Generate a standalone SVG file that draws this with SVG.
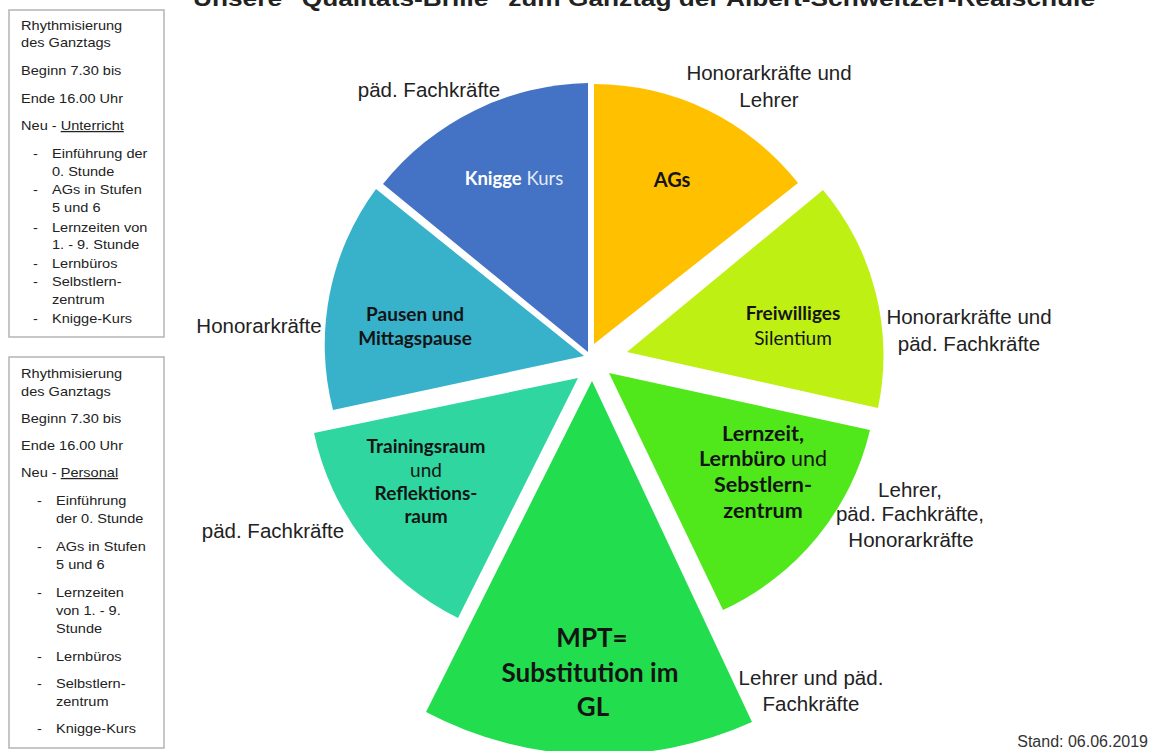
<svg xmlns="http://www.w3.org/2000/svg" width="1150" height="751" viewBox="0 0 1150 751">
<style>
.box{fill:#fff;stroke:#b4b4b4;stroke-width:1.5}
.bt{font-family:"Liberation Sans",Arial,sans-serif;font-size:13px;fill:#222}
.ol{font-family:"Liberation Sans",Arial,sans-serif;font-size:20.5px;fill:#222;text-anchor:middle}
.il{font-family:Lato,"Open Sans",sans-serif;font-size:19px;fill:#141414;text-anchor:middle}
.b{font-weight:bold}
.title{font-family:"Liberation Sans",Arial,sans-serif;font-size:22px;font-weight:bold;fill:#222}
</style>
<rect width="1150" height="751" fill="#fff"/>
<text class="title" x="193" y="6" textLength="902" lengthAdjust="spacingAndGlyphs">Unsere "Qualitäts-Brille" zum Ganztag der Albert-Schweitzer-Realschule</text>

<g id="box-unterricht">
<rect class="box" x="9" y="10" width="155" height="327"/>
<g transform="scale(1.12,1)">
<text class="bt" x="18.8" y="30">Rhythmisierung</text>
<text class="bt" x="18.8" y="47">des Ganztags</text>
<text class="bt" x="18.8" y="75">Beginn 7.30 bis</text>
<text class="bt" x="18.8" y="103">Ende 16.00 Uhr</text>
<text class="bt" x="18.8" y="130">Neu - <tspan text-decoration="underline">Unterricht</tspan></text>
<text class="bt" x="29.5" y="158">-</text><text class="bt" x="46.4" y="158">Einführung der</text>
<text class="bt" x="46.4" y="176">0. Stunde</text>
<text class="bt" x="29.5" y="194">-</text><text class="bt" x="46.4" y="194">AGs in Stufen</text>
<text class="bt" x="46.4" y="212">5 und 6</text>
<text class="bt" x="29.5" y="232">-</text><text class="bt" x="46.4" y="232">Lernzeiten von</text>
<text class="bt" x="46.4" y="249">1. - 9. Stunde</text>
<text class="bt" x="29.5" y="268">-</text><text class="bt" x="46.4" y="268">Lernbüros</text>
<text class="bt" x="29.5" y="286">-</text><text class="bt" x="46.4" y="286">Selbstlern-</text>
<text class="bt" x="46.4" y="304">zentrum</text>
<text class="bt" x="29.5" y="323">-</text><text class="bt" x="46.4" y="323">Knigge-Kurs</text>
</g>
</g>

<g id="box-personal">
<rect class="box" x="9" y="357" width="155" height="391"/>
<g transform="scale(1.12,1)">
<text class="bt" x="18.8" y="378">Rhythmisierung</text>
<text class="bt" x="18.8" y="396">des Ganztags</text>
<text class="bt" x="18.8" y="423">Beginn 7.30 bis</text>
<text class="bt" x="18.8" y="450">Ende 16.00 Uhr</text>
<text class="bt" x="18.8" y="477">Neu - <tspan text-decoration="underline">Personal</tspan></text>
<text class="bt" x="33" y="505">-</text><text class="bt" x="50" y="505">Einführung</text>
<text class="bt" x="50" y="523">der 0. Stunde</text>
<text class="bt" x="33" y="551">-</text><text class="bt" x="50" y="551">AGs in Stufen</text>
<text class="bt" x="50" y="569">5 und 6</text>
<text class="bt" x="33" y="597">-</text><text class="bt" x="50" y="597">Lernzeiten</text>
<text class="bt" x="50" y="615">von 1. - 9.</text>
<text class="bt" x="50" y="633">Stunde</text>
<text class="bt" x="33" y="661">-</text><text class="bt" x="50" y="661">Lernbüros</text>
<text class="bt" x="33" y="688">-</text><text class="bt" x="50" y="688">Selbstlern-</text>
<text class="bt" x="50" y="706">zentrum</text>
<text class="bt" x="33" y="733">-</text><text class="bt" x="50" y="733">Knigge-Kurs</text>
</g>
</g>

<g id="slice-knigge">
<path d="M588,352 L588,83 A269,269 0 0,0 383,184 Z" fill="#4472C4"/>
<text class="il" x="514" y="185" style="font-size:18.5px"><tspan class="b" fill="#fff">Knigge</tspan><tspan fill="#e6ecf7"> Kurs</tspan></text>
</g>
<g id="slice-ags">
<path d="M594,344 L594,84 A260,260 0 0,1 798,183 Z" fill="#FFC000"/>
<text class="il b" x="672" y="187" style="font-size:20px">AGs</text>
</g>
<g id="slice-silentium">
<path d="M627,352 L823,190 A256,256 0 0,1 878,408 Z" fill="#BEF014"/>
<text class="il b" x="793" y="320">Freiwilliges</text>
<text class="il" x="793" y="345">Silentium</text>
</g>
<g id="slice-lernzeit">
<path d="M609,373 L870,430 A265,265 0 0,1 723,610 Z" fill="#50E81B"/>
<text class="il b" x="763" y="441" style="font-size:21.5px">Lernzeit,</text>
<text class="il" x="763" y="466" style="font-size:21.5px"><tspan class="b">Lernbüro</tspan> und</text>
<text class="il b" x="763" y="492" style="font-size:21.5px">Sebstlern-</text>
<text class="il b" x="763" y="518" style="font-size:21.5px">zentrum</text>
</g>
<g id="slice-mpt">
<path d="M592,381 L752,722 A372,372 0 0,1 426,712 Z" fill="#22DD4D"/>
<text class="il b" x="592" y="647" style="font-size:26px">MPT=</text>
<text class="il b" x="590" y="682" style="font-size:26px">Substitution im</text>
<text class="il b" x="593" y="716" style="font-size:26px">GL</text>
</g>
<g id="slice-training">
<path d="M578,378 L458,618 A269,269 0 0,1 314,433 Z" fill="#2FD69F"/>
<text class="il b" x="426" y="453">Trainingsraum</text>
<text class="il" x="426" y="477">und</text>
<text class="il b" x="426" y="500">Reflektions-</text>
<text class="il b" x="426" y="523">raum</text>
</g>
<g id="slice-pausen">
<path d="M584,356 L376,189 A262,262 0 0,0 333,410 Z" fill="#37B2CA"/>
<text class="il b" x="415" y="321">Pausen und</text>
<text class="il b" x="415" y="345">Mittagspause</text>
</g>

<g id="labels">
<text class="ol" x="429" y="97">päd. Fachkräfte</text>
<text class="ol" x="769" y="80">Honorarkräfte und</text>
<text class="ol" x="769" y="107">Lehrer</text>
<text class="ol" x="259" y="333">Honorarkräfte</text>
<text class="ol" x="969" y="324">Honorarkräfte und</text>
<text class="ol" x="969" y="351">päd. Fachkräfte</text>
<text class="ol" x="273" y="538">päd. Fachkräfte</text>
<text class="ol" x="910" y="497">Lehrer,</text>
<text class="ol" x="910" y="521">päd. Fachkräfte,</text>
<text class="ol" x="911" y="547">Honorarkräfte</text>
<text class="ol" x="811" y="685">Lehrer und päd.</text>
<text class="ol" x="811" y="711">Fachkräfte</text>
<text x="1148" y="747" style="font-family:'Liberation Sans',Arial,sans-serif;font-size:16px;fill:#333;text-anchor:end">Stand: 06.06.2019</text>
</g>
</svg>
